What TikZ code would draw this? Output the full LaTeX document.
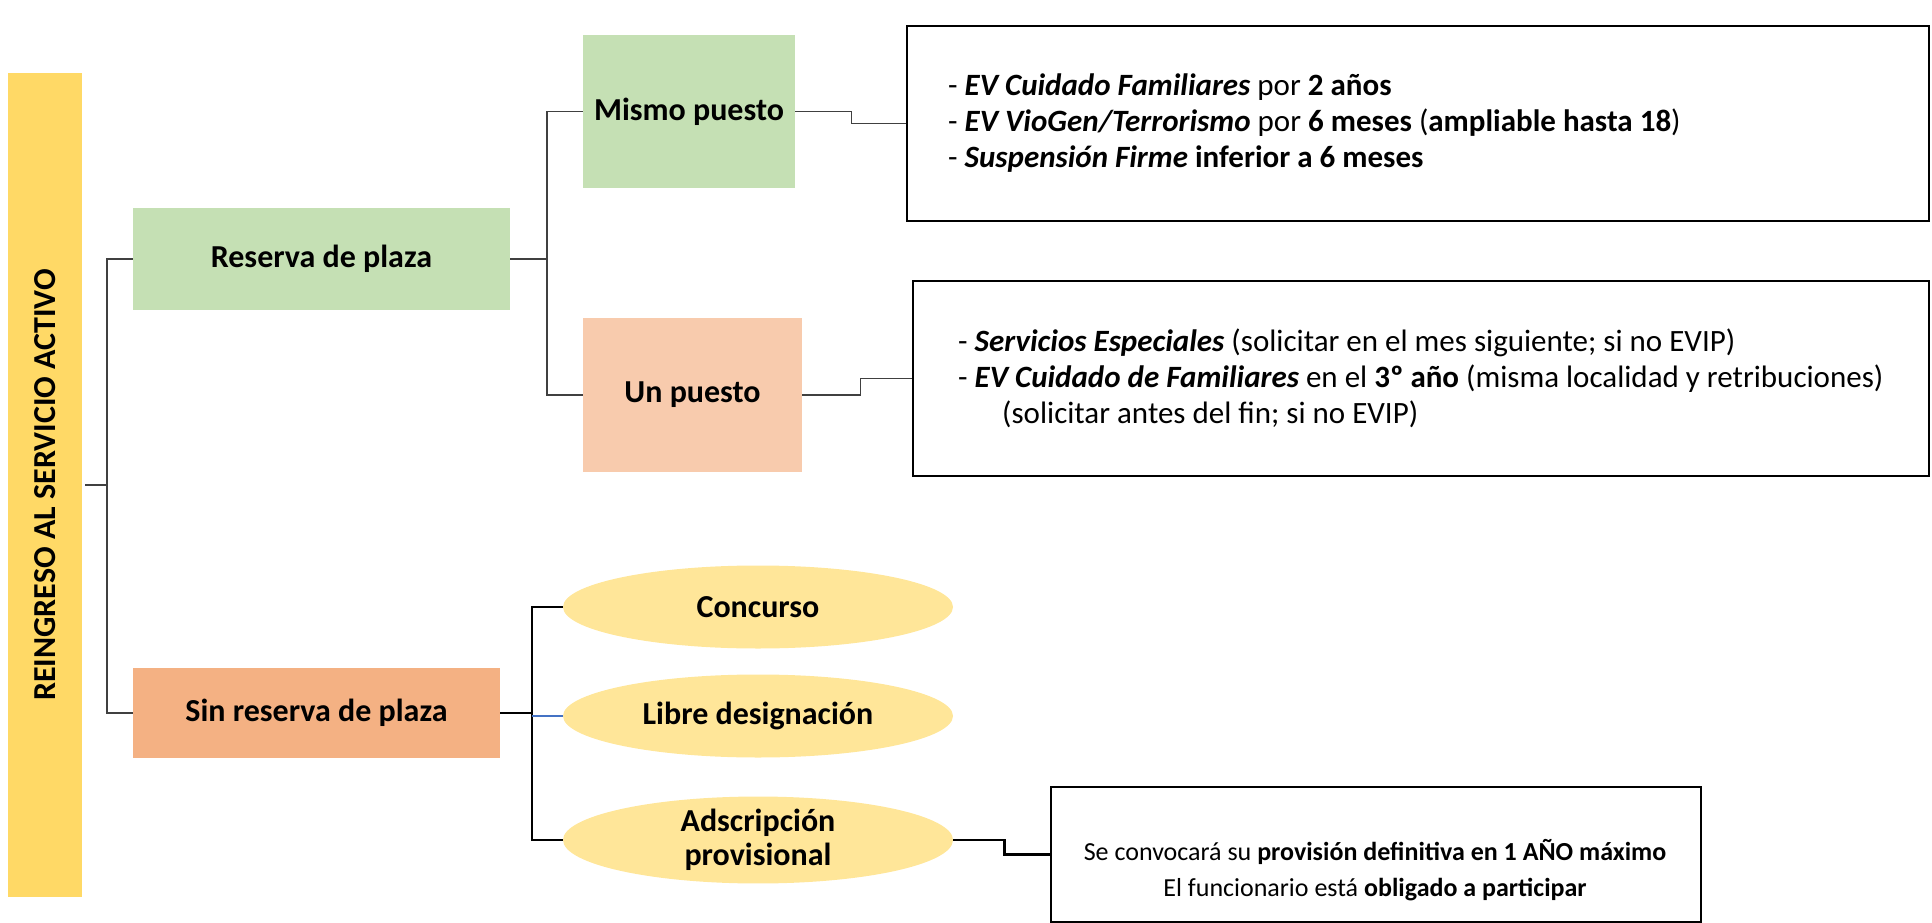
\documentclass[tikz,border=0pt]{standalone}
\usepackage{fontspec}
\setmainfont{Carlito}
\usetikzlibrary{shapes.geometric}

\definecolor{amarillo}{HTML}{FFD966}
\definecolor{verde}{HTML}{C5E0B4}
\definecolor{naranja}{HTML}{F4B183}
\definecolor{naranjaclaro}{HTML}{F8CBAD}
\definecolor{crema}{HTML}{FFE699}
\definecolor{azul}{HTML}{4472C4}

\tikzset{
  caja/.style={rectangle, inner sep=0pt, font=\fontsize{32}{37}\selectfont\bfseries},
  elipse/.style={ellipse, fill=crema, minimum width=390, minimum height=83,
                 inner sep=0pt, align=center, font=\fontsize{32}{34}\selectfont\bfseries},
  marco/.style={draw=black, line width=2pt, inner sep=0pt, anchor=north west},
  texto/.style={anchor=west, align=left, inner sep=0pt, font=\fontsize{31}{36}\selectfont},
  linea/.style={draw=black!75, line width=1.4pt},
  lineagruesa/.style={draw=black, line width=2.6pt},
}

\begin{document}
\begin{tikzpicture}[x=1pt, y=1pt]
\useasboundingbox (0,0) rectangle (1932,-923);

\node[caja, fill=amarillo, rotate=90, minimum width=824, minimum height=74] (titulo) at (45,-485) {REINGRESO AL SERVICIO ACTIVO};

\node[caja, fill=verde, minimum width=377, minimum height=102] (reserva) at (321.5,-259) {Reserva de plaza};
\node[caja, fill=naranja, minimum width=367, minimum height=90] (sinreserva) at (316.5,-713) {Sin reserva de plaza};

\node[caja, fill=verde, minimum width=212, minimum height=153] (mismo) at (689,-111.5) {Mismo puesto};
\node[caja, fill=naranjaclaro, minimum width=219, minimum height=154] (unpuesto) at (692.5,-395) {Un puesto};

\node[elipse] (concurso) at (758,-607) {Concurso};
\node[elipse] (libre) at (758,-716) {Libre designación};
\node[elipse] (adscripcion) at (758,-840) {Adscripción\\provisional};

\node[marco, minimum width=1022, minimum height=195] (caja1) at (906,-25) {};
\node[texto] (lista1) at ([xshift=42]caja1.west) {- \textbf{\textit{EV Cuidado Familiares}} por \textbf{2 años}\\
- \textbf{\textit{EV VioGen/Terrorismo}} por \textbf{6 meses} (\textbf{ampliable hasta 18})\\
- \textbf{\textit{Suspensión Firme}} \textbf{inferior a 6 meses}};

\node[marco, minimum width=1016, minimum height=195] (caja2) at (912,-280) {};
\node[texto] (lista2) at ([xshift=46]caja2.west) {- \textbf{\textit{Servicios Especiales}} (solicitar en el mes siguiente; si no EVIP)\\
- \textbf{\textit{EV Cuidado de Familiares}} en el \textbf{3º año} (misma localidad y retribuciones)\\
\hspace*{44pt}(solicitar antes del fin; si no EVIP)};

\node[marco, minimum width=650, minimum height=135] (caja3) at (1050,-786) {};
\node[align=center, inner sep=0pt, font=\fontsize{26}{36}\selectfont] (aviso) at (1375,-870) {Se convocará su \textbf{provisión definitiva en 1 AÑO máximo}\\
El funcionario está \textbf{obligado a participar}};

\coordinate (j1) at (107,-485);
\coordinate (j2) at (547,-259);
\coordinate (j3) at (532,-713);

\draw[linea] ([xshift=3]titulo.south) -- (j1);
\draw[linea] (reserva.west) -- (reserva.west -| j1) -- (sinreserva.west -| j1) -- (sinreserva.west);
\draw[linea] (reserva.east) -- (j2);
\draw[linea] (mismo.east) -- ++(56,0) |- (caja1.west);
\draw[linea] (mismo.west) -- (mismo.west -| j2) -- (unpuesto.west -| j2) -- (unpuesto.west);
\draw[linea] (unpuesto.east) -- ++(58,0) |- (caja2.west);

\draw[lineagruesa] (sinreserva.east) -- (j3);
\draw[lineagruesa] (concurso.west) -- (concurso.west -| j3) -- (adscripcion.west -| j3) -- (adscripcion.west);
\draw[azul, line width=1.6pt] (libre.west -| j3) -- (libre.west);
\draw[lineagruesa] (adscripcion.east) -- ++(51,0) |- (caja3.west);
\end{tikzpicture}
\end{document}
